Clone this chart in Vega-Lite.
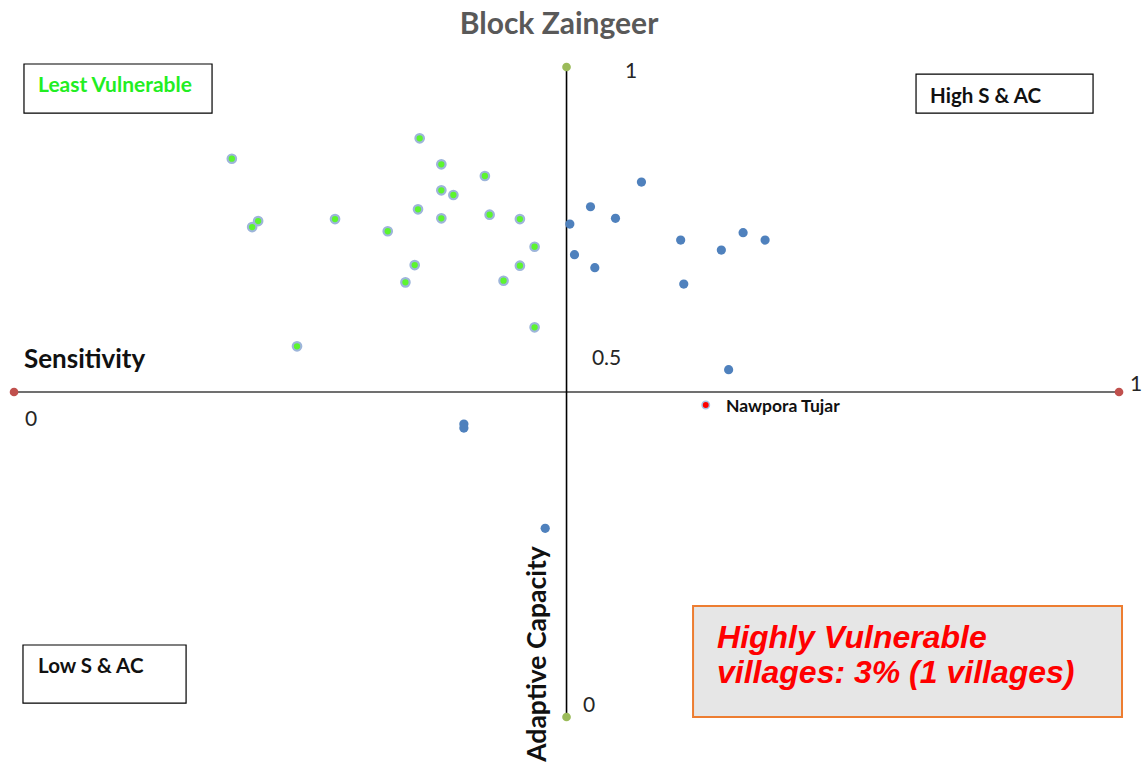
{
  "$schema": "https://vega.github.io/schema/vega-lite/v6.json",
  "width": 1143,
  "height": 764,
  "autosize": {"type": "fit", "contains": "padding"},
  "padding": 0,
  "background": "white",
  "config": {"view": {"stroke": null}},
  "datasets": {
    "villages": [
      {"name": "V1", "sensitivity": 0.1971, "adaptive": 0.8589, "group": "Least Vulnerable"},
      {"name": "V2", "sensitivity": 0.3671, "adaptive": 0.8903, "group": "Least Vulnerable"},
      {"name": "V3", "sensitivity": 0.3867, "adaptive": 0.8503, "group": "Least Vulnerable"},
      {"name": "V4", "sensitivity": 0.4261, "adaptive": 0.8323, "group": "Least Vulnerable"},
      {"name": "V5", "sensitivity": 0.3867, "adaptive": 0.8103, "group": "Least Vulnerable"},
      {"name": "V6", "sensitivity": 0.3976, "adaptive": 0.8031, "group": "Least Vulnerable"},
      {"name": "V7", "sensitivity": 0.3656, "adaptive": 0.7811, "group": "Least Vulnerable"},
      {"name": "V8", "sensitivity": 0.2209, "adaptive": 0.7630, "group": "Least Vulnerable"},
      {"name": "V9", "sensitivity": 0.2155, "adaptive": 0.7538, "group": "Least Vulnerable"},
      {"name": "V10", "sensitivity": 0.2905, "adaptive": 0.7661, "group": "Least Vulnerable"},
      {"name": "V11", "sensitivity": 0.3867, "adaptive": 0.7672, "group": "Least Vulnerable"},
      {"name": "V12", "sensitivity": 0.4304, "adaptive": 0.7728, "group": "Least Vulnerable"},
      {"name": "V13", "sensitivity": 0.4578, "adaptive": 0.7661, "group": "Least Vulnerable"},
      {"name": "V14", "sensitivity": 0.3382, "adaptive": 0.7473, "group": "Least Vulnerable"},
      {"name": "V15", "sensitivity": 0.4711, "adaptive": 0.7235, "group": "Least Vulnerable"},
      {"name": "V16", "sensitivity": 0.3626, "adaptive": 0.6953, "group": "Least Vulnerable"},
      {"name": "V17", "sensitivity": 0.4578, "adaptive": 0.6943, "group": "Least Vulnerable"},
      {"name": "V18", "sensitivity": 0.3542, "adaptive": 0.6687, "group": "Least Vulnerable"},
      {"name": "V19", "sensitivity": 0.4430, "adaptive": 0.6712, "group": "Least Vulnerable"},
      {"name": "V20", "sensitivity": 0.4711, "adaptive": 0.5995, "group": "Least Vulnerable"},
      {"name": "V21", "sensitivity": 0.2561, "adaptive": 0.5703, "group": "Least Vulnerable"},
      {"name": "V22", "sensitivity": 0.5030, "adaptive": 0.7584, "group": "Other"},
      {"name": "V23", "sensitivity": 0.5217, "adaptive": 0.7850, "group": "Other"},
      {"name": "V24", "sensitivity": 0.5443, "adaptive": 0.7672, "group": "Other"},
      {"name": "V25", "sensitivity": 0.5678, "adaptive": 0.8230, "group": "Other"},
      {"name": "V26", "sensitivity": 0.5072, "adaptive": 0.7112, "group": "Other"},
      {"name": "V27", "sensitivity": 0.5256, "adaptive": 0.6912, "group": "Other"},
      {"name": "V28", "sensitivity": 0.6033, "adaptive": 0.7338, "group": "Other"},
      {"name": "V29", "sensitivity": 0.6061, "adaptive": 0.6661, "group": "Other"},
      {"name": "V30", "sensitivity": 0.6401, "adaptive": 0.7184, "group": "Other"},
      {"name": "V31", "sensitivity": 0.6598, "adaptive": 0.7451, "group": "Other"},
      {"name": "V32", "sensitivity": 0.6797, "adaptive": 0.7338, "group": "Other"},
      {"name": "V33", "sensitivity": 0.6467, "adaptive": 0.5343, "group": "Other"},
      {"name": "V34", "sensitivity": 0.4071, "adaptive": 0.4508, "group": "Other"},
      {"name": "V35", "sensitivity": 0.4071, "adaptive": 0.4446, "group": "Other"},
      {"name": "V36", "sensitivity": 0.4807, "adaptive": 0.2903, "group": "Other"},
      {"name": "Nawpora Tujar", "sensitivity": 0.6260, "adaptive": 0.4800, "group": "Highly Vulnerable"}
    ],
    "axislines": [
      {"dir": "h", "x": 0, "x2": 1, "y": 0.5, "y2": 0.5},
      {"dir": "v", "x": 0.5, "x2": 0.5, "y": 0, "y2": 1}
    ],
    "ends": [
      {"axis": "Sensitivity", "x": 0, "y": 0.5},
      {"axis": "Sensitivity", "x": 1, "y": 0.5},
      {"axis": "Adaptive", "x": 0.5, "y": 1},
      {"axis": "Adaptive", "x": 0.5, "y": 0}
    ],
    "boxes": [
      {"id": "least", "x": 0.0090, "x2": 0.1792, "y": 1.0046, "y2": 0.9292},
      {"id": "high", "x": 0.8163, "x2": 0.9765, "y": 0.9892, "y2": 0.9292},
      {"id": "low", "x": 0.0081, "x2": 0.1557, "y": 0.1108, "y2": 0.0215},
      {"id": "hv", "x": 0.6145, "x2": 1.0027, "y": 0.1708, "y2": 0.0}
    ],
    "labels": [
      {"id": "title", "text": "Block Zaingeer", "x": 0.4932, "y": 1.0662},
      {"id": "tick", "text": "1", "x": 0.5530, "y": 0.9923},
      {"id": "tick", "text": "0.5", "x": 0.5230, "y": 0.5508},
      {"id": "tick", "text": "0", "x": 0.0100, "y": 0.4569},
      {"id": "tick", "text": "1", "x": 1.0100, "y": 0.5108},
      {"id": "tick", "text": "0", "x": 0.5150, "y": 0.0169},
      {"id": "sens", "text": "Sensitivity", "x": 0.0090, "y": 0.5492},
      {"id": "adap", "text": "Adaptive Capacity", "x": 0.4742, "y": 0.0969},
      {"id": "name", "text": "Nawpora Tujar", "x": 0.6443, "y": 0.4769},
      {"id": "least", "text": "Least Vulnerable", "x": 0.0217, "y": 0.9708},
      {"id": "quad", "text": "High S & AC", "x": 0.8290, "y": 0.9538},
      {"id": "quad", "text": "Low S & AC", "x": 0.0217, "y": 0.0769},
      {"id": "hv", "text": "Highly Vulnerable", "x": 0.6362, "y": 0.1215},
      {"id": "hv", "text": "villages: 3% (1 villages)", "x": 0.6362, "y": 0.0677}
    ]
  },
  "encoding": {
    "x": {"field": "x", "type": "quantitative", "scale": {"domain": [-0.0127, 1.0217], "nice": false, "zero": false}, "axis": null},
    "y": {"field": "y", "type": "quantitative", "scale": {"domain": [-0.0723, 1.1031], "nice": false, "zero": false}, "axis": null}
  },
  "layer": [
    {
      "data": {"name": "boxes"},
      "transform": [{"filter": "datum.id !== 'hv'"}],
      "mark": {"type": "rect", "fill": "white", "stroke": "#000000", "strokeWidth": 1.2},
      "encoding": {"x2": {"field": "x2"}, "y2": {"field": "y2"}}
    },
    {
      "data": {"name": "boxes"},
      "transform": [{"filter": "datum.id === 'hv'"}],
      "mark": {"type": "rect", "fill": "#E6E6E6", "stroke": "#ED7D31", "strokeWidth": 2},
      "encoding": {"x2": {"field": "x2"}, "y2": {"field": "y2"}}
    },
    {
      "data": {"name": "axislines"},
      "transform": [{"filter": "datum.dir === 'h'"}],
      "mark": {"type": "rule", "color": "#404040", "strokeWidth": 1.6},
      "encoding": {"x2": {"field": "x2"}, "y2": {"field": "y2"}}
    },
    {
      "data": {"name": "axislines"},
      "transform": [{"filter": "datum.dir === 'v'"}],
      "mark": {"type": "rule", "color": "#000000", "strokeWidth": 1.6},
      "encoding": {"x2": {"field": "x2"}, "y2": {"field": "y2"}}
    },
    {
      "data": {"name": "ends"},
      "transform": [{"filter": "datum.axis === 'Sensitivity'"}],
      "mark": {"type": "circle", "color": "#C0504D", "opacity": 1, "size": 75},
      "encoding": {}
    },
    {
      "data": {"name": "ends"},
      "transform": [{"filter": "datum.axis === 'Adaptive'"}],
      "mark": {"type": "circle", "color": "#9BBB59", "opacity": 1, "size": 75},
      "encoding": {}
    },
    {
      "data": {"name": "villages"},
      "transform": [{"filter": "datum.group === 'Least Vulnerable'"}],
      "mark": {"type": "circle", "fill": "#5CF52E", "stroke": "#9DB5DA", "strokeWidth": 2.2, "opacity": 1, "size": 72},
      "encoding": {
        "x": {"field": "sensitivity", "type": "quantitative"},
        "y": {"field": "adaptive", "type": "quantitative"}
      }
    },
    {
      "data": {"name": "villages"},
      "transform": [{"filter": "datum.group === 'Other'"}],
      "mark": {"type": "circle", "fill": "#4F81BD", "opacity": 1, "size": 85},
      "encoding": {
        "x": {"field": "sensitivity", "type": "quantitative"},
        "y": {"field": "adaptive", "type": "quantitative"}
      }
    },
    {
      "data": {"name": "villages"},
      "transform": [{"filter": "datum.group === 'Highly Vulnerable'"}],
      "mark": {"type": "circle", "fill": "#FF0000", "stroke": "#A9C4E8", "strokeWidth": 1.5, "opacity": 1, "size": 55},
      "encoding": {
        "x": {"field": "sensitivity", "type": "quantitative"},
        "y": {"field": "adaptive", "type": "quantitative"}
      }
    },
    {
      "data": {"name": "labels"},
      "transform": [{"filter": "datum.id === 'title'"}],
      "mark": {"type": "text", "font": "Lato", "fontWeight": "bold", "fontSize": 30, "color": "#595959", "align": "center", "baseline": "middle", "dy": 1},
      "encoding": {"text": {"field": "text"}}
    },
    {
      "data": {"name": "labels"},
      "transform": [{"filter": "datum.id === 'tick'"}],
      "mark": {"type": "text", "font": "Lato", "fontSize": 21, "color": "#262626", "align": "left", "baseline": "middle"},
      "encoding": {"text": {"field": "text"}}
    },
    {
      "data": {"name": "labels"},
      "transform": [{"filter": "datum.id === 'sens'"}],
      "mark": {"type": "text", "font": "Lato", "fontWeight": "bold", "fontSize": 26, "color": "#111111", "align": "left", "baseline": "middle"},
      "encoding": {"text": {"field": "text"}}
    },
    {
      "data": {"name": "labels"},
      "transform": [{"filter": "datum.id === 'adap'"}],
      "mark": {"type": "text", "font": "Lato", "fontWeight": "bold", "fontSize": 26.5, "color": "#111111", "align": "center", "baseline": "middle", "angle": 270},
      "encoding": {"text": {"field": "text"}}
    },
    {
      "data": {"name": "labels"},
      "transform": [{"filter": "datum.id === 'name'"}],
      "mark": {"type": "text", "font": "Lato", "fontWeight": "bold", "fontSize": 17.5, "color": "#111111", "align": "left", "baseline": "middle"},
      "encoding": {"text": {"field": "text"}}
    },
    {
      "data": {"name": "labels"},
      "transform": [{"filter": "datum.id === 'least'"}],
      "mark": {"type": "text", "font": "Lato", "fontWeight": "bold", "fontSize": 21, "color": "#22EE22", "align": "left", "baseline": "middle"},
      "encoding": {"text": {"field": "text"}}
    },
    {
      "data": {"name": "labels"},
      "transform": [{"filter": "datum.id === 'quad'"}],
      "mark": {"type": "text", "font": "Lato", "fontWeight": "bold", "fontSize": 20.5, "color": "#111111", "align": "left", "baseline": "middle"},
      "encoding": {"text": {"field": "text"}}
    },
    {
      "data": {"name": "labels"},
      "transform": [{"filter": "datum.id === 'hv'"}],
      "mark": {"type": "text", "font": "Liberation Sans", "fontWeight": "bold", "fontStyle": "italic", "fontSize": 32, "color": "#FF0000", "align": "left", "baseline": "middle"},
      "encoding": {"text": {"field": "text"}}
    }
  ]
}
